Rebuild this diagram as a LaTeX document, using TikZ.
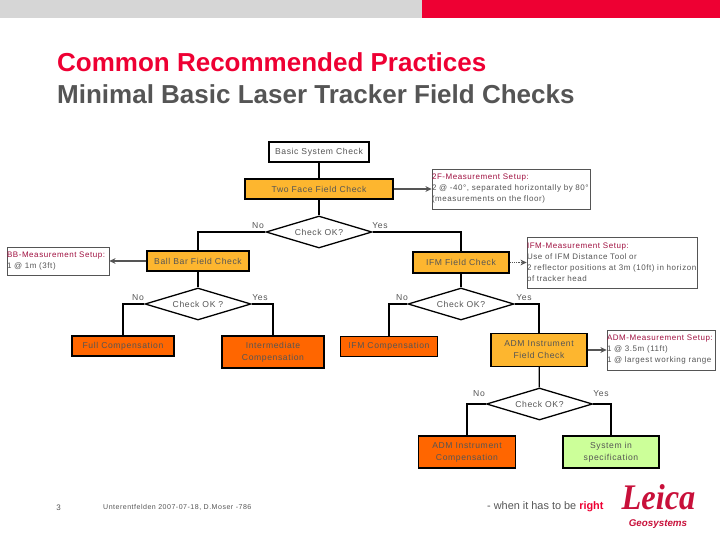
\documentclass[tikz,border=0pt]{standalone}
\usepackage{xcolor}
\usepackage{fontspec}
\setmainfont{Liberation Sans}
\newfontfamily\spaced{Liberation Sans}[LetterSpace=7]
\newfontfamily\logofont{Liberation Serif}
\usetikzlibrary{positioning,shapes.geometric,arrows.meta}
\definecolor{leicared}{HTML}{EE0033}
\definecolor{logored}{HTML}{C8103A}
\definecolor{setupred}{HTML}{A01040}
\definecolor{inkgrey}{HTML}{555555}
\definecolor{checkfill}{HTML}{FDB62F}
\definecolor{compfill}{HTML}{FF6600}
\definecolor{passfill}{HTML}{CCFF99}
\tikzset{
  % --- flow boxes ------------------------------------------------------------
  flowbox/.style={rectangle,draw=black,line width=1.3pt,inner sep=1pt,align=center,
                  font=\spaced\fontsize{8.6}{12}\selectfont,text=inkgrey},
  startbox/.style={flowbox,fill=white},
  checkbox/.style={flowbox,fill=checkfill},
  compbox/.style={flowbox,fill=compfill},
  passbox/.style={flowbox,fill=passfill},
  decide/.style={diamond,draw=black,line width=1.3pt,fill=white,aspect=3.3,inner sep=0pt,
                 font=\spaced\fontsize{8.6}{10}\selectfont,text=inkgrey},
  % --- setup notes -----------------------------------------------------------
  setupbox/.style={rectangle,draw=inkgrey,line width=0.6pt,fill=white,inner xsep=0pt,
                   inner ysep=0.5pt,text width=#1,align=left,
                   font=\spaced\fontsize{8}{11}\selectfont,text=inkgrey},
  % --- couplings -------------------------------------------------------------
  flow/.style={black,line width=1.3pt},
  note/.style={-{Stealth[length=2.2mm,width=2mm]},inkgrey,line width=1.2pt},
  answer/.style={font=\spaced\fontsize{8.6}{10}\selectfont,text=inkgrey,inner sep=0pt},
}
\begin{document}
\begin{tikzpicture}[x=1pt,y=-1pt]
  \useasboundingbox (0,0) rectangle (720,540);

  % ---- page furniture ----
  \fill[black!16] (0,0) rectangle (422,18);
  \fill[leicared] (422,0) rectangle (720,18);
  \node[anchor=west,inner sep=0pt,text=leicared,font=\fontsize{26}{30}\selectfont\bfseries] (head) at (57,62) {Common Recommended Practices};
  \node[anchor=west,inner sep=0pt,text=inkgrey,font=\fontsize{26}{30}\selectfont\bfseries] (title) at (57,94.5) {Minimal Basic Laser Tracker Field Checks};

  % ---- the spine of checks ----
  \node[startbox,minimum width=100pt,minimum height=20pt] (basic) at (319,152) {Basic System Check};
  \node[checkbox,minimum width=148pt,minimum height=20pt] (face)  at (319,189) {Two Face Field Check};
  \node[decide,minimum width=106pt,minimum height=32pt]   (ok1)   at (319,232) {Check OK?};
  \node[checkbox,minimum width=102pt,minimum height=20pt] (ball)  at (198,261) {Ball Bar Field Check};
  \node[checkbox,minimum width=96pt,minimum height=21pt]  (ifm)   at (461,262.5) {IFM Field Check};
  \node[decide,minimum width=106pt,minimum height=32pt]   (ok2)   at (198,304) {Check OK ?};
  \node[decide,minimum width=106pt,minimum height=32pt]   (ok3)   at (461,304) {Check OK?};
  \node[compbox,minimum width=102pt,minimum height=20pt]  (full)  at (123,346) {Full Compensation};
  \node[compbox,minimum width=102pt,minimum height=32pt]  (inter) at (273,352) {Intermediate\\Compensation};
  \node[compbox,minimum width=97pt,minimum height=20pt]   (ifmc)  at (389,346.5) {IFM Compensation};
  \node[checkbox,minimum width=96pt,minimum height=33pt]  (adm)   at (539,350) {ADM Instrument\\Field Check};
  \node[decide,minimum width=106pt,minimum height=32pt]   (ok4)   at (539.5,404) {Check OK?};
  \node[compbox,minimum width=97pt,minimum height=32pt]   (admc)  at (467,452) {ADM Instrument\\Compensation};
  \node[passbox,minimum width=96pt,minimum height=32pt]   (pass)  at (611,452) {System in\\specification};

  % ---- measurement setups ----
  \node[setupbox=158pt,minimum height=40pt] (set2f) at (511,189) {\textcolor{setupred}{2F-Measurement Setup:}\\2 @ -40°, separated horizontally by 80°\\(measurements on the floor)};
  \node[setupbox=102pt,minimum height=28pt] (setbb) at (58,261) {\textcolor{setupred}{BB-Measurement Setup:}\\1 @ 1m (3ft)};
  \node[setupbox=170pt,minimum height=51pt] (setifm) at (612,262.5) {\textcolor{setupred}{IFM-Measurement Setup:}\\Use of IFM Distance Tool or\\2 reflector positions at 3m (10ft) in horizon\\of tracker head};
  \node[setupbox=108pt,minimum height=40pt] (setadm) at (661,350) {\textcolor{setupred}{ADM-Measurement Setup:}\\1 @ 3.5m (11ft)\\1 @ largest working range};

  % ---- footer ----
  \node[inner sep=0pt,text=inkgrey,font=\fontsize{8}{10}\selectfont] (page) at (58.5,507.5) {3};
  \node[anchor=west,inner sep=0pt,text=inkgrey,font=\spaced\fontsize{7.05}{10}\selectfont] (foot) at (103,507.5) {Unterentfelden 2007-07-18, D.Moser -786};
  \node[anchor=west,inner sep=0pt,text=inkgrey,font=\fontsize{10.9}{12}\selectfont] (slogan) at (487,507) {- when it has to be \textcolor{leicared}{\textbf{right}}};
  \node[inner sep=0pt,text=logored,xscale=0.9,transform shape,font=\logofont\fontsize{36}{36}\selectfont\bfseries\itshape] (logo) at (658.5,497) {Leica};
  \node[inner sep=0pt,text=logored,font=\fontsize{9.8}{11}\selectfont\bfseries\itshape] (geo) at (658,524) {Geosystems};

  % ---- the flow ----
  \draw[flow] (basic) -- (face);
  \draw[flow] (face) -- (ok1);
  \draw[flow] (ok1.west) -| (ball.north);
  \draw[flow] (ok1.east) -| (ifm.north);
  \draw[flow] (ball) -- (ok2);
  \draw[flow] (ifm) -- (ok3);
  \draw[flow] (ok2.west) -| (full.north);
  \draw[flow] (ok2.east) -| (inter.north);
  \draw[flow] (ok3.west) -| (ifmc.north);
  \draw[flow] (ok3.east) -| (adm.north);
  \draw[flow] (adm) -- (ok4);
  \draw[flow] (ok4.west) -| (admc.north);
  \draw[flow] (ok4.east) -| (pass.north);

  % ---- the notes ----
  \draw[note] (face) -- (set2f);
  \draw[note] (ball) -- (setbb);
  \draw[note,densely dotted] (ifm) -- (setifm);
  \draw[note] (adm) -- (setadm);

  % ---- yes and no ----
  \node[answer] (no1)  at (258,226) {No};
  \node[answer] (yes1) at (380,225.5) {Yes};
  \node[answer] (no2)  at (138,297.5) {No};
  \node[answer] (yes2) at (260,297.5) {Yes};
  \node[answer] (no3)  at (402,297.5) {No};
  \node[answer] (yes3) at (524,297.5) {Yes};
  \node[answer] (no4)  at (479,394) {No};
  \node[answer] (yes4) at (601,394) {Yes};
\end{tikzpicture}
\end{document}
